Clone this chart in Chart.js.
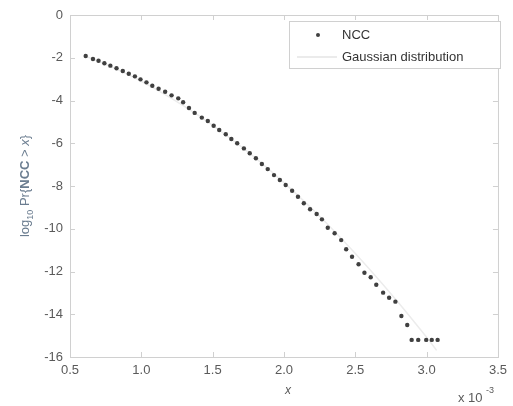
<!DOCTYPE html>
<html lang="en">
<head>
<meta charset="UTF-8">
<title>NCC tail</title>
<script src="https://cdn.jsdelivr.net/npm/chart.js"></script>
<style>
  body { margin: 0; background: #fff; }
  canvas { display: block; }
</style>
</head>
<body>
<canvas id="tailChart" width="513" height="406"></canvas>
<script>
// NCC empirical tail (x in units of 1e-3)
const nccX = [0.610, 0.661, 0.700, 0.741, 0.783, 0.826, 0.870, 0.912, 0.955, 0.994,
  1.036, 1.077, 1.121, 1.167, 1.212, 1.259, 1.293, 1.334, 1.374, 1.424,
  1.466, 1.507, 1.546, 1.592, 1.631, 1.672, 1.719, 1.760, 1.803, 1.845,
  1.886, 1.930, 1.971, 2.012, 2.057, 2.098, 2.139, 2.183, 2.229, 2.266,
  2.307, 2.355, 2.401, 2.436, 2.477, 2.523, 2.564, 2.608, 2.647, 2.695,
  2.737, 2.781, 2.823, 2.864, 2.895, 2.941, 2.997, 3.036, 3.077];
const nccY = [-1.92, -2.06, -2.14, -2.26, -2.37, -2.49, -2.62, -2.75, -2.87, -3.01,
  -3.15, -3.31, -3.45, -3.59, -3.76, -3.90, -4.08, -4.35, -4.58, -4.80,
  -4.96, -5.18, -5.38, -5.58, -5.80, -6.00, -6.24, -6.47, -6.70, -6.97,
  -7.21, -7.49, -7.72, -7.95, -8.22, -8.50, -8.81, -9.09, -9.31, -9.56,
  -9.95, -10.21, -10.53, -10.96, -11.31, -11.66, -12.06, -12.27, -12.62, -12.99,
  -13.23, -13.41, -14.08, -14.50, -15.20, -15.20, -15.20, -15.20, -15.20];

// Gaussian reference curve
const gaussX = [0.60, 0.80, 1.00, 1.20, 1.40, 1.60, 1.80, 2.00, 2.20, 2.40, 2.60, 2.80, 3.00, 3.07];
const gaussY = [-1.90, -2.45, -3.10, -3.85, -4.70, -5.65, -6.69, -7.84, -9.09, -10.44, -11.89, -13.44, -15.08, -15.69];

const xTicks = [0.5, 1, 1.5, 2, 2.5, 3, 3.5];
const yTicks = [0, -2, -4, -6, -8, -10, -12, -14, -16];

const FONT = '"Liberation Sans", Arial, sans-serif';
const AXIS_COL = '#d0d0d0';
const TEXT_COL = '#5a5a5a';

const toPts = (xs, ys) => xs.map((x, i) => ({ x: x, y: ys[i] }));

// box, inside ticks, axis titles and legend, MATLAB style
const decor = {
  id: 'decor',
  afterDraw(chart) {
    const { ctx, chartArea: a, scales } = chart;
    ctx.save();
    ctx.strokeStyle = AXIS_COL;
    ctx.lineWidth = 1;
    ctx.strokeRect(a.left + 0.5, a.top + 0.5, a.right - a.left, a.bottom - a.top);
    ctx.beginPath();
    xTicks.forEach(v => {
      const px = Math.round(scales.x.getPixelForValue(v)) + 0.5;
      ctx.moveTo(px, a.bottom); ctx.lineTo(px, a.bottom - 5);
      ctx.moveTo(px, a.top); ctx.lineTo(px, a.top + 5);
    });
    yTicks.forEach(v => {
      const py = Math.round(scales.y.getPixelForValue(v)) + 0.5;
      ctx.moveTo(a.left, py); ctx.lineTo(a.left + 5, py);
      ctx.moveTo(a.right, py); ctx.lineTo(a.right - 5, py);
    });
    ctx.stroke();

    // x label and exponent
    ctx.fillStyle = TEXT_COL;
    ctx.font = 'italic 12px ' + FONT;
    ctx.textAlign = 'center';
    ctx.textBaseline = 'alphabetic';
    ctx.fillText('x', 288, 394);
    ctx.font = '13px ' + FONT;
    ctx.textAlign = 'left';
    ctx.fillText('x 10', 458, 402);
    ctx.font = '9px ' + FONT;
    ctx.fillText('-3', 486, 393);

    // y label (rotated)
    ctx.save();
    ctx.translate(29, 186);
    ctx.rotate(-Math.PI / 2);
    ctx.fillStyle = '#6b7d90';
    const parts = [
      ['log', '13px ' + FONT, 0],
      ['10', '9px ' + FONT, 4],
      [' Pr{', '13px ' + FONT, 0],
      ['NCC', 'bold 13px ' + FONT, 0],
      [' > ', '13px ' + FONT, 0],
      ['x', 'italic 13px ' + FONT, 0],
      ['}', '13px ' + FONT, 0]
    ];
    let total = 0;
    parts.forEach(p => { ctx.font = p[1]; total += ctx.measureText(p[0]).width; });
    let cx = -total / 2;
    ctx.textAlign = 'left';
    parts.forEach(p => {
      ctx.font = p[1];
      ctx.fillText(p[0], cx, p[2]);
      cx += ctx.measureText(p[0]).width;
    });
    ctx.restore();

    // legend
    ctx.fillStyle = '#fff';
    ctx.fillRect(289, 21, 211, 47);
    ctx.strokeStyle = AXIS_COL;
    ctx.strokeRect(289.5, 21.5, 211, 47);
    ctx.fillStyle = '#404040';
    ctx.beginPath();
    ctx.arc(318, 35, 2, 0, Math.PI * 2);
    ctx.fill();
    ctx.strokeStyle = '#e4e4e4';
    ctx.lineWidth = 1.5;
    ctx.beginPath();
    ctx.moveTo(297, 57); ctx.lineTo(337, 57);
    ctx.stroke();
    ctx.fillStyle = '#333';
    ctx.font = '13px ' + FONT;
    ctx.textBaseline = 'middle';
    ctx.fillText('NCC', 342, 35);
    ctx.fillText('Gaussian distribution', 342, 57);
    ctx.restore();
  }
};

new Chart(document.getElementById('tailChart').getContext('2d'), {
  type: 'scatter',
  data: {
    datasets: [{
      label: 'NCC',
      data: toPts(nccX, nccY),
      backgroundColor: '#404040',
      borderColor: '#404040',
      pointRadius: 2.2,
      borderWidth: 0,
      order: 0
    }, {
      label: 'Gaussian distribution',
      data: toPts(gaussX, gaussY),
      showLine: true,
      borderColor: '#ececec',
      borderWidth: 1.5,
      pointRadius: 0,
      tension: 0.3,
      order: 1
    }]
  },
  options: {
    responsive: false,
    animation: false,
    layout: { padding: { top: 15, right: 8, left: 0, bottom: 0 } },
    plugins: { legend: { display: false }, tooltip: { enabled: false } },
    scales: {
      x: {
        type: 'linear', min: 0.5, max: 3.5,
        afterFit: s => { s.height = 49; },
        afterBuildTicks: s => { s.ticks = xTicks.map(v => ({ value: v })); },
        grid: { display: false, drawTicks: false },
        border: { display: false },
        ticks: { color: TEXT_COL, font: { family: FONT, size: 13 }, padding: 6, maxRotation: 0 }
      },
      y: {
        type: 'linear', min: -16, max: 0,
        afterFit: s => { s.width = 70; },
        afterBuildTicks: s => { s.ticks = yTicks.map(v => ({ value: v })); },
        grid: { display: false, drawTicks: false },
        border: { display: false },
        ticks: { color: TEXT_COL, font: { family: FONT, size: 13 }, padding: 7 }
      }
    }
  },
  plugins: [decor]
});
</script>
</body>
</html>
